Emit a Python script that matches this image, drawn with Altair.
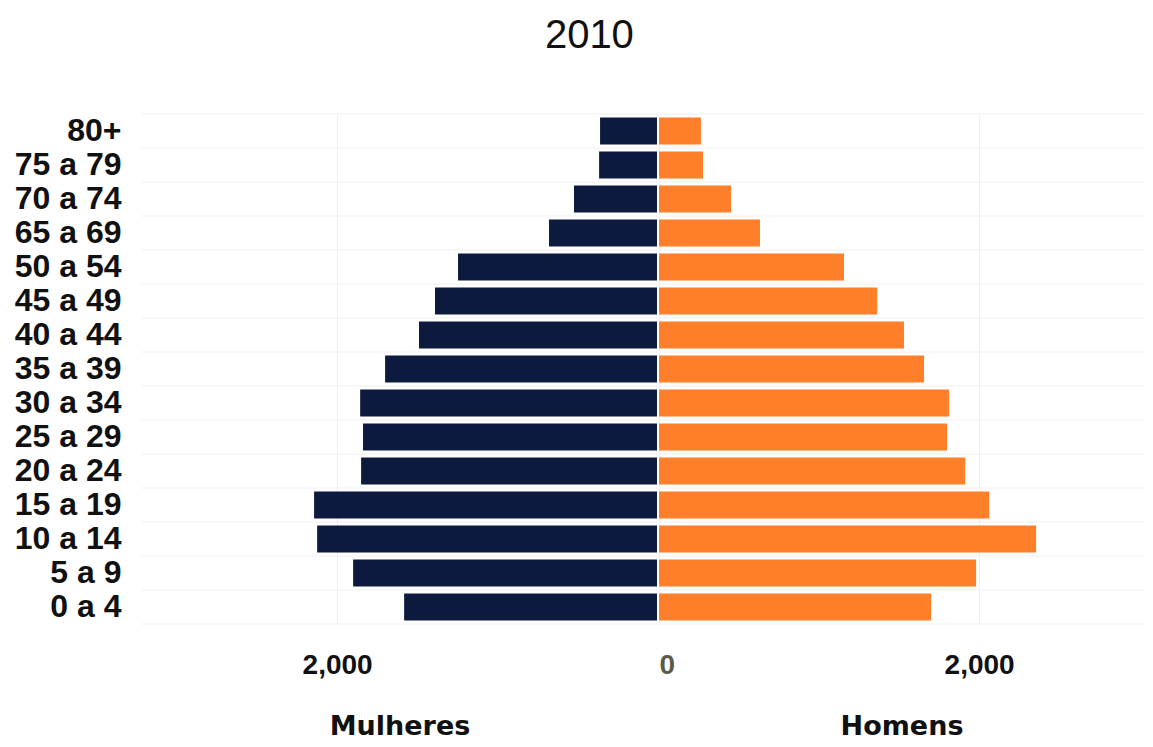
import altair as alt
import pandas as pd

ages = ["80+", "75 a 79", "70 a 74", "65 a 69", "50 a 54", "45 a 49", "40 a 44",
        "35 a 39", "30 a 34", "25 a 29", "20 a 24", "15 a 19", "10 a 14", "5 a 9", "0 a 4"]
mulheres = [356, 362, 519, 675, 1244, 1388, 1488, 1700, 1856, 1838, 1850, 2144, 2125, 1900, 1581]
homens = [262, 275, 450, 631, 1156, 1363, 1531, 1656, 1813, 1800, 1913, 2063, 2356, 1981, 1700]

NAVY = "#0c1a3e"
ORANGE = "#ff7f2a"
GRID = "#efefef"

df_m = pd.DataFrame({"age": ages, "value": mulheres})
df_h = pd.DataFrame({"age": ages, "value": homens})

LIB = "Liberation Sans"

yscale = alt.Scale(paddingInner=0, paddingOuter=0)


def panel(df, color, domain, reverse, values, title, show_y, width):
    x = alt.X(
        "value:Q",
        scale=alt.Scale(domain=domain, reverse=reverse, nice=False, zero=True),
        axis=alt.Axis(
            values=values, format=",.0f", title=title, grid=True, gridColor=GRID,
            domain=False, ticks=False, labelFont=LIB, labelFontSize=28,
            labelFontWeight="bold",
            labelColor={"condition": {"test": "datum.value == 0", "value": "#5a5a4a"}, "value": "#111111"},
            labelPadding=27, titleFont="DejaVu Sans", titleFontSize=27,
            titleFontWeight="bold", titleColor="#111111", titlePadding=34,
        ),
    )
    if show_y:
        yaxis = alt.Axis(title=None, domain=False, ticks=False, grid=False,
                         labelFont=LIB, labelFontSize=32, labelFontWeight="bold",
                         labelColor="#111111", labelPadding=21)
    else:
        yaxis = None
    bars = alt.Chart(df).mark_bar(color=color, height={"band": 0.8}).encode(
        x=x,
        y=alt.Y("age:N", sort=ages, scale=yscale, axis=yaxis),
    )
    rules_top = alt.Chart(df).mark_rule(color=GRID, strokeWidth=1).encode(
        y=alt.Y("age:N", sort=ages, scale=yscale, bandPosition=0, axis=yaxis),
    )
    rules_bottom = alt.Chart(df).mark_rule(color=GRID, strokeWidth=1).encode(
        y=alt.Y("age:N", sort=ages, scale=yscale, bandPosition=1, axis=yaxis),
    ).transform_filter(alt.datum.age == ages[-1])
    return alt.layer(rules_top, rules_bottom, bars).properties(width=width, height=510)


left = panel(df_m, NAVY, [0, 3220], True, [2000], "Mulheres", True, 515)
right = panel(df_h, ORANGE, [0, 3030], False, [0, 2000], "Homens", False, 485)

chart = alt.hconcat(left, right, spacing=0).properties(
    title=alt.TitleParams("2010", fontSize=40, font=LIB, fontWeight="normal",
                          color="#111111", offset=57, anchor="middle", dx=10),
    padding={"left": 5, "top": 8, "right": 0, "bottom": 0},
).configure(background="white").configure_view(stroke="transparent")

chart.save("out.html", embed_options={"renderer": "svg", "actions": False})
